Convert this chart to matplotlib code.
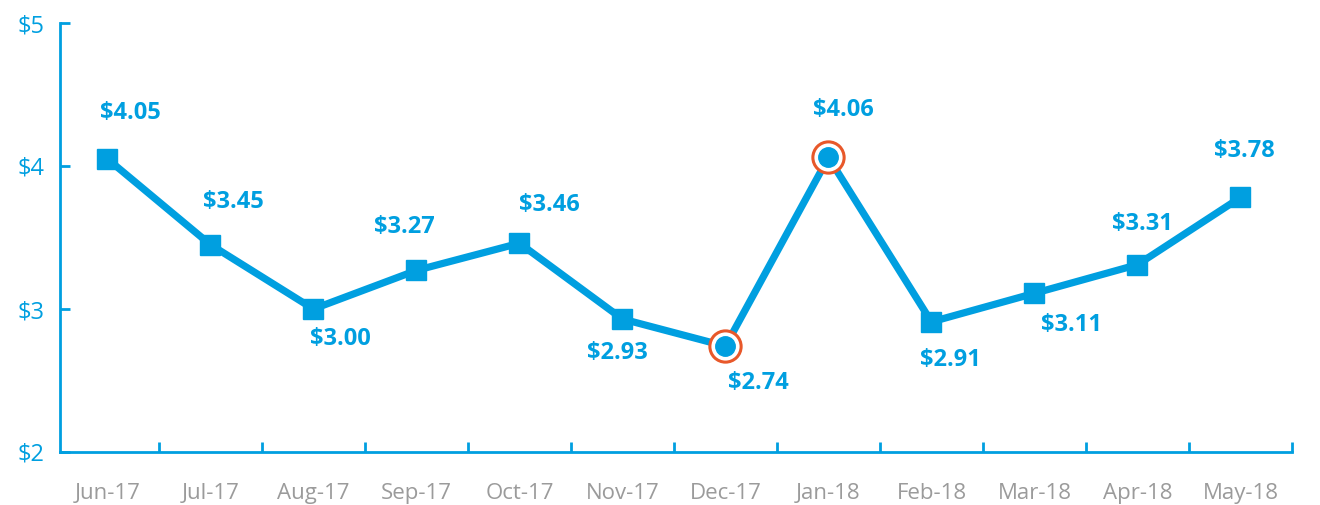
import matplotlib
matplotlib.use("Agg")
import matplotlib.pyplot as plt
import numpy as np

months = ["Jun-17", "Jul-17", "Aug-17", "Sep-17", "Oct-17", "Nov-17",
          "Dec-17", "Jan-18", "Feb-18", "Mar-18", "Apr-18", "May-18"]
prices = [4.05, 3.45, 3.00, 3.27, 3.46, 2.93, 2.74, 4.06, 2.91, 3.11, 3.31, 3.78]
labels = ["$4.05", "$3.45", "$3.00", "$3.27", "$3.46", "$2.93",
          "$2.74", "$4.06", "$2.91", "$3.11", "$3.31", "$3.78"]
highlight = ["Dec-17", "Jan-18"]
# label offsets in pixels (dx, dy)
label_offsets = [(23, 46), (23, 43), (27, -30), (-12, 43), (30, 38), (-5, -34),
                 (33, -37), (15, 47), (19, -38), (37, -32), (5, 41), (4, 46)]
yticks = [2, 3, 4, 5]
ytick_labels = ["$2", "$3", "$4", "$5"]

BLUE = "#009FE0"
ORANGE = "#E8582A"
GRAY = "#9B9B9B"

plt.rcParams['font.family'] = ['Open Sans', 'DejaVu Sans']

fig = plt.figure(figsize=(13.2, 5.05), dpi=100)
ax = fig.add_axes([60/1320, 53/505, (1292-60)/1320, (452-23)/505])

x = np.arange(len(months))
ax.plot(x, prices, color=BLUE, lw=5.2, zorder=2, solid_capstyle='butt')

sq = [i for i, m in enumerate(months) if m not in highlight]
hl = [i for i, m in enumerate(months) if m in highlight]
ax.plot(x[sq], np.array(prices)[sq], 's', color=BLUE, ms=15, zorder=3, lw=0)
ax.plot(x[hl], np.array(prices)[hl], 'o', mfc='white', mec=ORANGE, mew=2.2,
        ms=22.5, zorder=3, lw=0)
ax.plot(x[hl], np.array(prices)[hl], 'o', color=BLUE, ms=14, zorder=4, lw=0)

for xi, yi, lab, (dx, dy) in zip(x, prices, labels, label_offsets):
    ax.annotate(lab, (xi, yi), xytext=(dx, dy), textcoords='offset pixels',
                ha='center', va='center', color=BLUE, fontsize=17,
                fontweight='bold')

ax.set_xlim(-0.46, 11.5)
ax.set_ylim(2, 5)

for s in ['top', 'right']:
    ax.spines[s].set_visible(False)
for s in ['left', 'bottom']:
    ax.spines[s].set_color(BLUE)
    ax.spines[s].set_linewidth(2)

ax.set_yticks(yticks)
ax.set_yticklabels(ytick_labels)
ax.tick_params(axis='y', direction='in', length=7, width=2, color=BLUE,
               labelcolor=BLUE, labelsize=17, pad=11)

ax.set_xticks(x)
ax.set_xticklabels(months)
ax.tick_params(axis='x', which='major', length=0, labelcolor=GRAY,
               labelsize=16, pad=22)
ax.set_xticks(np.arange(0.5, 12, 1), minor=True)
ax.tick_params(axis='x', which='minor', direction='in', length=7, width=2,
               color=BLUE)

fig.savefig("out.png", dpi=100)
